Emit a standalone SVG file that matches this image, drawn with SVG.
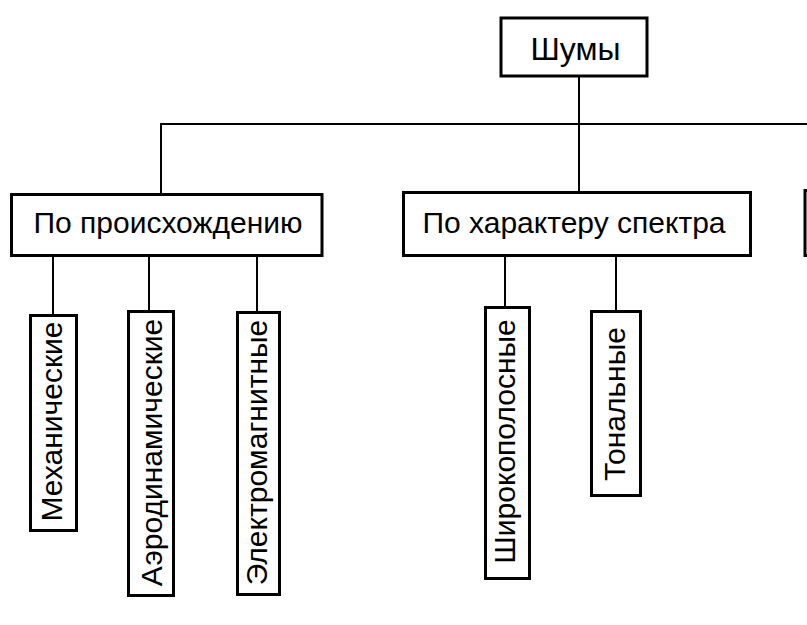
<svg xmlns="http://www.w3.org/2000/svg" width="807" height="625" viewBox="0 0 807 625">
<style>
.box{fill:#fff;stroke:#000;stroke-width:3}
.con{fill:none;stroke:#000;stroke-width:2}
text{font-family:"Liberation Sans",Arial,sans-serif;fill:#000;font-size:30px;text-anchor:middle}
</style>
<rect width="807" height="625" fill="#fff"/>
<g id="connectors">
<line class="con" x1="579" y1="76" x2="579" y2="192"/>
<line class="con" x1="160" y1="124" x2="807" y2="124"/>
<line class="con" x1="161" y1="124" x2="161" y2="194"/>
<line class="con" x1="53" y1="256" x2="53" y2="315"/>
<line class="con" x1="149" y1="256" x2="149" y2="311"/>
<line class="con" x1="257" y1="256" x2="257" y2="312"/>
<line class="con" x1="505" y1="256" x2="505" y2="307"/>
<line class="con" x1="616" y1="256" x2="616" y2="311"/>
</g>
<g id="shumy">
<rect class="box" x="501" y="18" width="146" height="58"/>
<text x="575.5" y="60" style="font-size:32px">Шумы</text>
</g>
<g id="po-proiskhozhdeniyu">
<rect class="box" x="11.5" y="194.5" width="310.5" height="61"/>
<text x="168" y="233">По происхождению</text>
</g>
<g id="po-kharakteru-spektra">
<rect class="box" x="403.5" y="192.5" width="347" height="63"/>
<text x="574" y="233">По характеру спектра</text>
</g>
<g id="third-category">
<rect class="box" x="805" y="190.5" width="100" height="65"/>
</g>
<g id="mekhanicheskie">
<rect class="box" x="30.5" y="315.5" width="46" height="215"/>
<text transform="translate(62,421.5) rotate(-90)">Механические</text>
</g>
<g id="aerodinamicheskie">
<rect class="box" x="128.5" y="311.5" width="45" height="284"/>
<text transform="translate(162,452.5) rotate(-90)">Аэродинамические</text>
</g>
<g id="elektromagnitnye">
<rect class="box" x="237.5" y="312.5" width="42" height="282"/>
<text transform="translate(267,452.5) rotate(-90)">Электромагнитные</text>
</g>
<g id="shirokopolosnye">
<rect class="box" x="485.5" y="307.5" width="44" height="271"/>
<text transform="translate(515,441.5) rotate(-90)">Широкополосные</text>
</g>
<g id="tonalnye">
<rect class="box" x="591.5" y="311.5" width="49" height="184"/>
<text transform="translate(625,404) rotate(-90)">Тональные</text>
</g>
</svg>
